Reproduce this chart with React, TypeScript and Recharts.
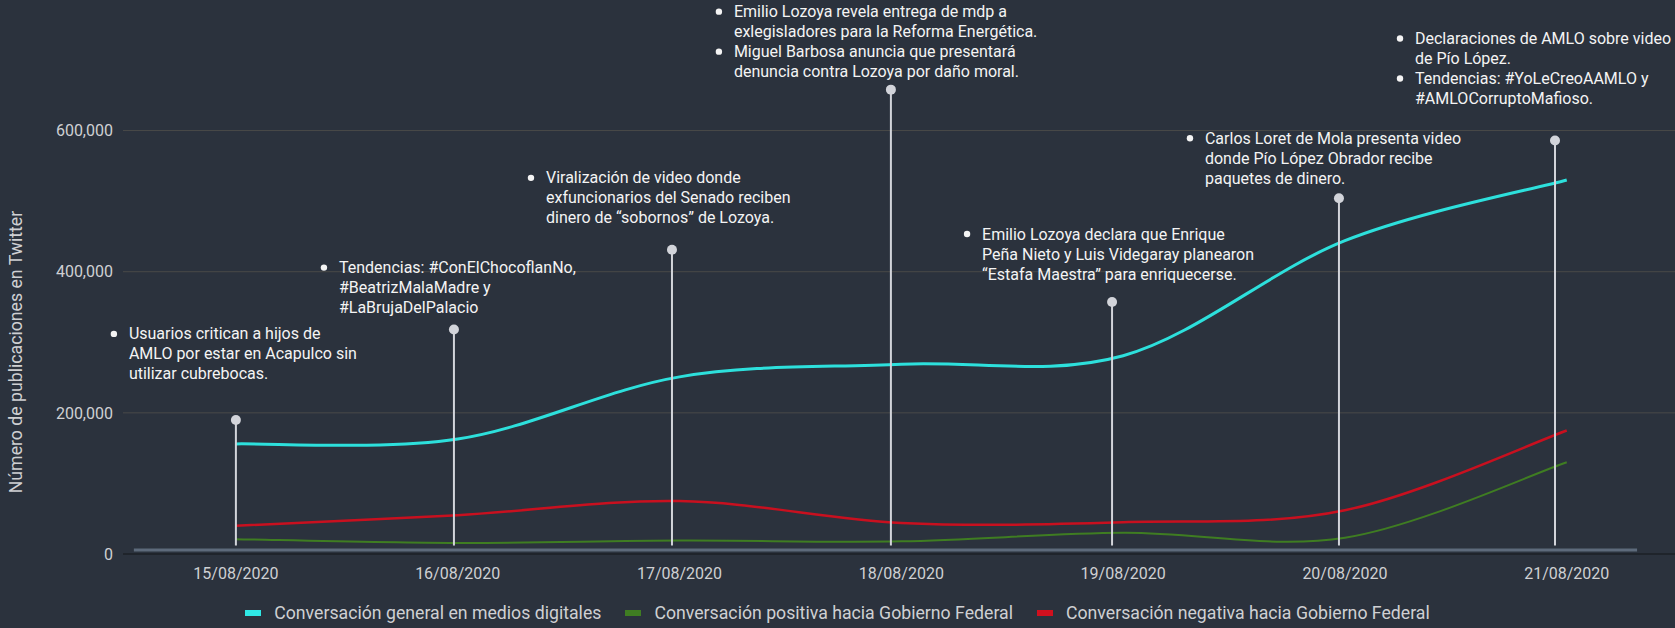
import React from "react";
import {
  CartesianGrid,
  ComposedChart,
  Legend,
  Line,
  ReferenceDot,
  ReferenceLine,
  XAxis,
  YAxis,
} from "recharts";

// data
const categories = ["15/08/2020", "16/08/2020", "17/08/2020", "18/08/2020", "19/08/2020", "20/08/2020", "21/08/2020"];
const generalConversation = [156000, 163000, 251000, 269000, 281000, 444000, 530000];
const positiveConversation = [21000, 15600, 19000, 18000, 30000, 23000, 130000];
const negativeConversation = [40000, 55000, 75000, 44000, 45000, 62000, 175000];
const yTicks = [0, 200000, 400000, 600000];

// series names and colours
const seriesInfo = [
  { key: "general", name: "Conversación general en medios digitales", color: "#2de0dc", legend: "#2fe8e6", width: 3 },
  { key: "positive", name: "Conversación positiva hacia Gobierno Federal", color: "#3f7d22", legend: "#3f7d22", width: 2 },
  { key: "negative", name: "Conversación negativa hacia Gobierno Federal", color: "#c8101f", legend: "#d0101e", width: 2.5 },
];

// events (position on the date axis and height of the pin)
const eventPositions = [0, 0.983, 1.966, 2.953, 3.95, 4.973, 5.947];
const eventPeaks = [190000, 318000, 431000, 658000, 357000, 504000, 586000];
const eventNotes: string[][][] = [
  [["Usuarios critican a hijos de", "AMLO por estar en Acapulco sin", "utilizar cubrebocas."]],
  [["Tendencias: #ConElChocoflanNo,", "#BeatrizMalaMadre y", "#LaBrujaDelPalacio"]],
  [["Viralización de video donde", "exfuncionarios del Senado reciben", "dinero de “sobornos” de Lozoya."]],
  [
    ["Emilio Lozoya revela entrega de mdp a", "exlegisladores para la Reforma Energética."],
    ["Miguel Barbosa anuncia que presentará", "denuncia contra Lozoya por daño moral."],
  ],
  [["Emilio Lozoya declara que Enrique", "Peña Nieto y Luis Videgaray planearon", "“Estafa Maestra” para enriquecerse."]],
  [["Carlos Loret de Mola presenta video", "donde Pío López Obrador recibe", "paquetes de dinero."]],
  [
    ["Declaraciones de AMLO sobre video", "de Pío López."],
    ["Tendencias: #YoLeCreoAAMLO y", "#AMLOCorruptoMafioso."],
  ],
];

// layout of the note boxes relative to each pin, in pixels
const noteOffsets: [number, number][] = [
  [-122, -86],
  [-130, -62],
  [-141, -72],
  [-172, -78],
  [-145, -68],
  [-149, -60],
  [-155, -102],
];

const chartData = categories.map((_, i) => ({
  x: i,
  general: generalConversation[i],
  positive: positiveConversation[i],
  negative: negativeConversation[i],
}));

const BG = "#2b323d";
const TEXT = "#cfd0d3";
const PIN = "#d2d4da";
const LINE_H = 20;

// catmull-rom style smoothing, like the original chart
function smoothCurve(context: any) {
  let pts: number[][] = [];
  return {
    areaStart() {},
    areaEnd() {},
    lineStart() {
      pts = [];
    },
    point(x: number, y: number) {
      pts.push([+x, +y]);
    },
    lineEnd() {
      if (!pts.length) return;
      context.moveTo(pts[0][0], pts[0][1]);
      for (let i = 0; i < pts.length - 1; i++) {
        const p0 = pts[i - 1] || pts[i];
        const p1 = pts[i];
        const p2 = pts[i + 1];
        const p3 = pts[i + 2] || p2;
        context.bezierCurveTo(
          p1[0] + (p2[0] - p0[0]) / 6,
          p1[1] + (p2[1] - p0[1]) / 6,
          p2[0] - (p3[0] - p1[0]) / 6,
          p2[1] - (p3[1] - p1[1]) / 6,
          p2[0],
          p2[1]
        );
      }
    },
  };
}

function EventMarker({ cx, cy, notes, offset }: any) {
  if (cx == null || cy == null) return null;
  let row = 0;
  const bx = cx + offset[0];
  const by = cy + offset[1];
  return (
    <g>
      <circle cx={cx} cy={cy} r={5} fill={PIN} />
      {notes.map((bullet: string[], b: number) => {
        const startRow = row;
        row += bullet.length;
        return (
          <g key={b}>
            <circle cx={bx} cy={by + startRow * LINE_H} r={3.2} fill="#f4f4f4" />
            {bullet.map((line, l) => (
              <text
                key={l}
                x={bx + 15}
                y={by + (startRow + l) * LINE_H}
                dominantBaseline="central"
                fill="#f4f4f4"
                fontSize={16}
              >
                {line}
              </text>
            ))}
          </g>
        );
      })}
    </g>
  );
}

function YLabel({ viewBox }: any) {
  const x = viewBox.x + 16;
  const y = viewBox.y + viewBox.height / 2 + 45;
  return (
    <text x={x} y={y} transform={`rotate(-90, ${x}, ${y})`} textAnchor="middle" dominantBaseline="central" fill={TEXT} fontSize={17.7}>
      Número de publicaciones en Twitter
    </text>
  );
}

function LegendContent() {
  return (
    <div style={{ display: "flex", justifyContent: "center", alignItems: "center", height: 30, gap: 24 }}>
      {seriesInfo.map((s) => (
        <div key={s.key} style={{ display: "flex", alignItems: "center" }}>
          <span style={{ display: "inline-block", width: 16, height: 6, background: s.legend, marginRight: 13 }} />
          <span style={{ color: TEXT, fontSize: 17.7 }}>{s.name}</span>
        </div>
      ))}
    </div>
  );
}

export default function App() {
  return (
    <div style={{ position: "absolute", left: 0, top: 0, width: 1675, height: 628, background: BG, fontFamily: "Roboto, sans-serif" }}>
      <ComposedChart width={1675} height={628} data={chartData} margin={{ top: 60, right: 0, bottom: 0, left: 0 }}>
        <CartesianGrid vertical={false} stroke="#4a4a48" horizontalValues={yTicks} />
        <XAxis
          dataKey="x"
          type="number"
          domain={[-0.509, 6.488]}
          allowDataOverflow
          ticks={[0, 1, 2, 3, 4, 5, 6]}
          tickFormatter={(v: number) => categories[v]}
          axisLine={false}
          tickLine={false}
          tickSize={6}
          tickMargin={8}
          height={44}
          tick={{ fill: TEXT, fontSize: 16 }}
        />
        <YAxis
          type="number"
          domain={[0, 700000]}
          ticks={yTicks}
          tickFormatter={(v: number) => v.toLocaleString("en-US")}
          axisLine={false}
          tickLine={false}
          tickSize={6}
          tickMargin={4}
          width={123}
          tick={{ fill: TEXT, fontSize: 16 }}
          label={<YLabel />}
        />
        <ReferenceLine y={0} stroke="#1f242b" strokeWidth={2} />
        <ReferenceLine
          segment={[
            { x: -0.46, y: 5600 },
            { x: 6.317, y: 5600 },
          ]}
          stroke="#5d6a7b"
          strokeWidth={3}
        />
        {[...seriesInfo].reverse().map((s) => (
          <Line
            key={s.key}
            type={smoothCurve as any}
            dataKey={s.key}
            name={s.name}
            stroke={s.color}
            strokeWidth={s.width}
            dot={false}
            isAnimationActive={false}
          />
        ))}
        {eventPositions.map((pos, i) => (
          <ReferenceLine
            key={`l${i}`}
            segment={[
              { x: pos, y: 12000 },
              { x: pos, y: eventPeaks[i] },
            ]}
            stroke={PIN}
            strokeWidth={2}
          />
        ))}
        {eventPositions.map((pos, i) => (
          <ReferenceDot
            key={`d${i}`}
            x={pos}
            y={eventPeaks[i]}
            r={5}
            shape={(p: any) => <EventMarker {...p} notes={eventNotes[i]} offset={noteOffsets[i]} />}
          />
        ))}
        <Legend verticalAlign="bottom" height={30} content={<LegendContent />} />
      </ComposedChart>
    </div>
  );
}
